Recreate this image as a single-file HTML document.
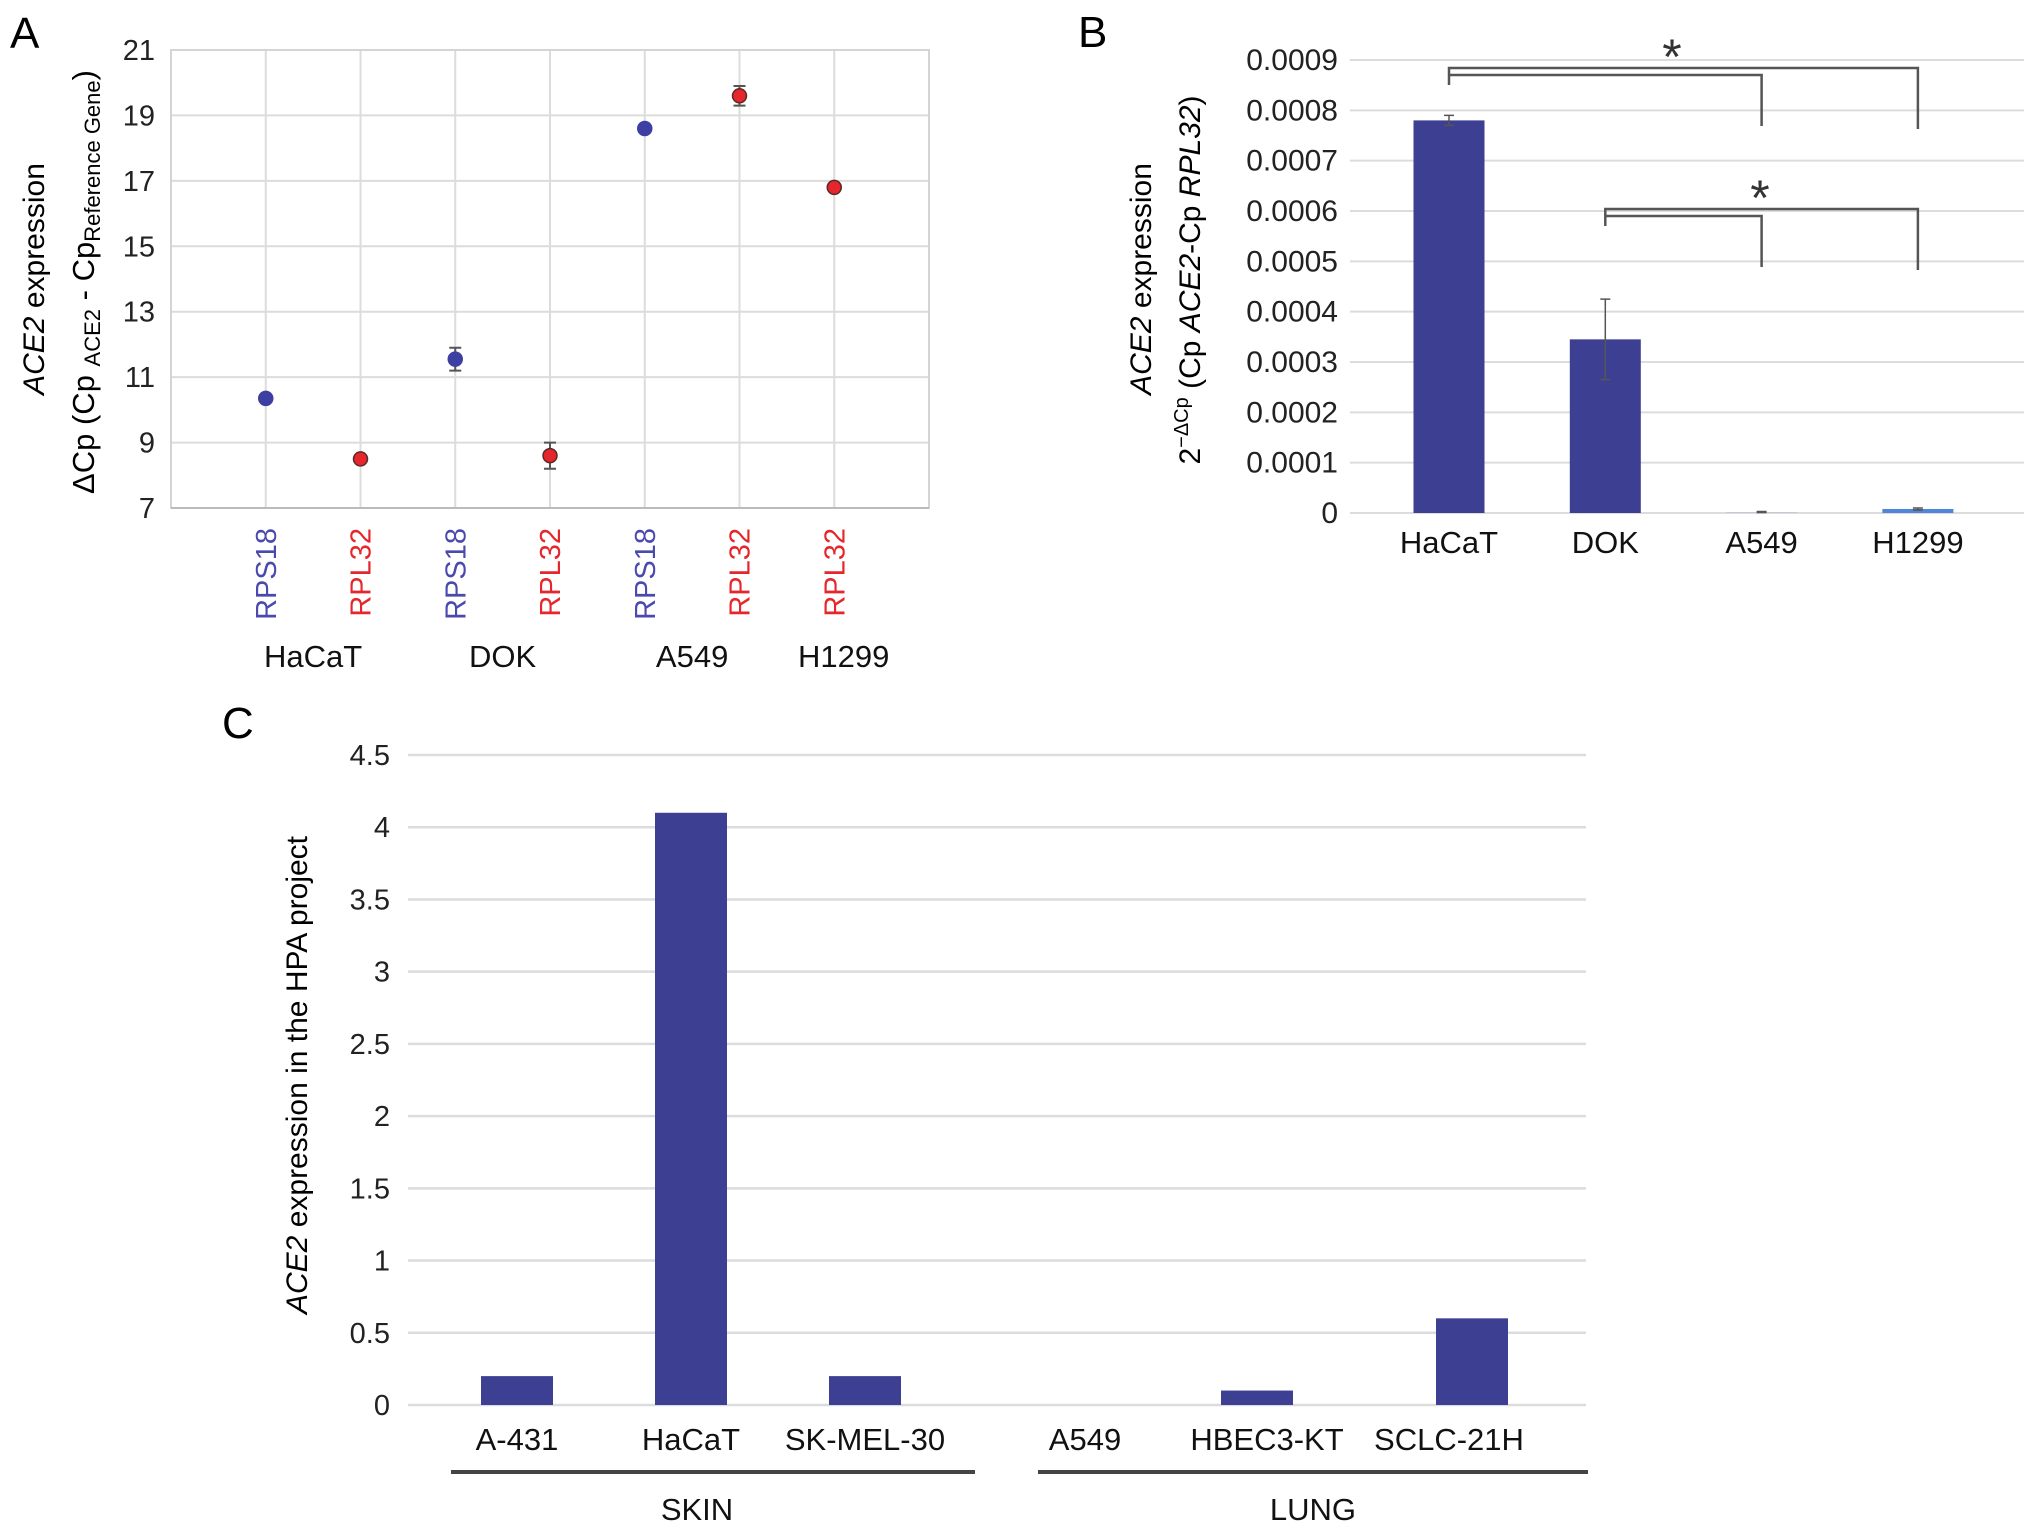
<!DOCTYPE html>
<html><head><meta charset="utf-8"><style>
html,body{margin:0;padding:0;background:#fff}
svg{display:block;font-family:"Liberation Sans",sans-serif}
</style></head><body>
<svg id="fig" width="2032" height="1534" viewBox="0 0 2032 1534" xmlns="http://www.w3.org/2000/svg">
<g id="pa"></g>
<g id="pb"></g>
<g id="pc"></g>
</svg>
<script>
// Panel A data
const aRefGenes = ["RPS18","RPL32","RPS18","RPL32","RPS18","RPL32","RPL32"];
const aValues = [10.35, 8.5, 11.55, 8.6, 18.6, 19.6, 16.8];
const aErrors = [0.1, 0.1, 0.35, 0.4, 0.1, 0.3, 0.1];
const aTicks = [7, 9, 11, 13, 15, 17, 19, 21];
const aCellLines = ["HaCaT","DOK","A549","H1299"];
const aCellPos = [1.5, 3.5, 5.5, 7.1];
// Panel B data
const bCats = ["HaCaT","DOK","A549","H1299"];
const bValues = [0.00078, 0.000345, 0.000002, 0.000008];
const bErrors = [0.00001, 0.00008, 0.000001, 0.000002];
const bTicks = [0,0.0001,0.0002,0.0003,0.0004,0.0005,0.0006,0.0007,0.0008,0.0009];
const bTickLabels = ["0","0.0001","0.0002","0.0003","0.0004","0.0005","0.0006","0.0007","0.0008","0.0009"];
// Panel C data
const cCats = ["A-431","HaCaT","SK-MEL-30","A549","HBEC3-KT","SCLC-21H"];
const cValues = [0.2, 4.1, 0.2, 0, 0.1, 0.6];
const cTicks = [0,0.5,1,1.5,2,2.5,3,3.5,4,4.5];
const cTickLabels = ["0","0.5","1","1.5","2","2.5","3","3.5","4","4.5"];
const cGroups = ["SKIN","LUNG"];

const NS="http://www.w3.org/2000/svg";
function mk(parent,tag,attrs,text){const e=document.createElementNS(NS,tag);for(const k in attrs)e.setAttribute(k,attrs[k]);if(text!==undefined)e.textContent=text;parent.appendChild(e);return e;}

// ---------- Panel A ----------
(function(){
const g=document.getElementById('pa');
const L=171,R=929,T=50,B=508;
const step=(R-L)/8;
const x=i=>L+step*(i+1);
const y=v=>B-(v-7)/(21-7)*(B-T);
let t=mk(g,'text',{x:10,y:48,'font-size':44},'A');


aTicks.forEach(v=>{
  const l=mk(g,'line',{x1:L,x2:R,y1:y(v),y2:y(v),stroke:'#dcdcdc','stroke-width':2});
  
  
  const tx=mk(g,'text',{x:L-16,y:y(v)+10,'font-size':29,'text-anchor':'end',fill:'#222'},String(v));
  
  
});
aValues.forEach((v,i)=>{
  const l=mk(g,'line',{x1:x(i),x2:x(i),y1:T,y2:B,stroke:'#dcdcdc','stroke-width':2});
  
  
});
const fr=mk(g,'rect',{x:L,y:T,width:R-L,height:B-T,fill:'none',stroke:'#d4d4d4','stroke-width':2});


mk(g,'line',{x1:L,x2:R,y1:B,y2:B,stroke:'#bbb','stroke-width':2});
aValues.forEach((v,i)=>{
  const red=aRefGenes[i]==='RPL32';
  const col=red?'#e5262b':'#3d3fa3';
  const e=aErrors[i];
  const eb=mk(g,'path',{d:`M${x(i)-6},${y(v+e)}H${x(i)+6}M${x(i)},${y(v+e)}V${y(v-e)}M${x(i)-6},${y(v-e)}H${x(i)+6}`,stroke:'#555','stroke-width':2,fill:'none'});
  
  
  const c=mk(g,'circle',{cx:x(i),cy:y(v),r:7,fill:col,stroke:red?'#5a2a2a':'#3d3fa3','stroke-width':1.5});
  
  
  const tl=mk(g,'text',{x:0,y:0,'font-size':29,'text-anchor':'end',fill:red?'#e5262b':'#4a4aae',transform:`translate(${x(i)+10},528) rotate(-90)`},aRefGenes[i]);
  
  
});
aCellLines.forEach((n,i)=>{
  const tx=mk(g,'text',{x:L+step*aCellPos[i],y:667,'font-size':31,'text-anchor':'middle',fill:'#111'},n);
  
  
});
const t1=mk(g,'text',{x:0,y:0,'font-size':30,'text-anchor':'middle',transform:'translate(44,279) rotate(-90)'});


mk(t1,'tspan',{'font-style':'italic'},'ACE2');mk(t1,'tspan',{},' expression');
const t2=mk(g,'text',{x:0,y:0,'font-size':31,'text-anchor':'middle',transform:'translate(94,282) rotate(-90)'});


mk(t2,'tspan',{},'ΔCp (Cp ');mk(t2,'tspan',{'font-size':22,dy:6},'ACE2');mk(t2,'tspan',{dy:-6},' - Cp');mk(t2,'tspan',{'font-size':22,dy:6},'Reference Gene');mk(t2,'tspan',{dy:-6},')');
})();

// ---------- Panel B ----------
(function(){
const g=document.getElementById('pb');
const L=1350,R=2024,T=60,B=513;
const y=v=>B-v/0.0009*(B-T);
const x0=1449,step=156.3;
const x=i=>x0+i*step;
let t=mk(g,'text',{x:1078,y:47,'font-size':44},'B');


bTicks.forEach((v,i)=>{
  const l=mk(g,'line',{x1:L,x2:R,y1:y(v),y2:y(v),stroke:'#dcdcdc','stroke-width':2});
  
  
  const tx=mk(g,'text',{x:1338,y:y(v)+10,'font-size':30,'text-anchor':'end',fill:'#222'},bTickLabels[i]);
  
  
});
bValues.forEach((v,i)=>{
  const w=71;
  const col=i===3?'#4f86d8':(i===2?'#c8c8d8':'#3d3f93');
  const r=mk(g,'rect',{x:x(i)-w/2,y:y(v),width:w,height:Math.max(B-y(v),1),fill:col});
  
  
  const e=bErrors[i];
  const eb=mk(g,'path',{d:`M${x(i)-5},${y(v+e)}H${x(i)+5}M${x(i)},${y(v+e)}V${y(v-e)}M${x(i)-5},${y(v-e)}H${x(i)+5}`,stroke:'#555','stroke-width':1.5,fill:'none'});
  
  
  const tx=mk(g,'text',{x:x(i),y:553,'font-size':31,'text-anchor':'middle',fill:'#111'},bCats[i]);
  
  
});
function bracket(from,yTop,yDrop,ends,star){
  const p=mk(g,'path',{d:`M${x(from)},${yTop+17}V${yTop}H${x(ends[1])}V${yDrop+3}M${x(from)},${yTop+7}H${x(ends[0])}V${yDrop}`,stroke:'#555','stroke-width':2.5,fill:'none'});
  
  
  const s=mk(g,'text',{x:star,y:yTop+6,'font-size':50,'text-anchor':'middle',fill:'#333'},'*');
  
  
}
bracket(0,68,126,[2,3],1672);
bracket(1,209,267,[2,3],1760);
const t1=mk(g,'text',{x:0,y:0,'font-size':30,'text-anchor':'middle',transform:'translate(1151,279) rotate(-90)'});


mk(t1,'tspan',{'font-style':'italic'},'ACE2');mk(t1,'tspan',{},' expression');
const t2=mk(g,'text',{x:0,y:0,'font-size':30,'text-anchor':'middle',transform:'translate(1200,280) rotate(-90)'});


mk(t2,'tspan',{},'2');mk(t2,'tspan',{'font-size':20,dy:-12},'−ΔCp');mk(t2,'tspan',{dy:12},' (Cp ');mk(t2,'tspan',{'font-style':'italic'},'ACE2');mk(t2,'tspan',{},'-Cp ');mk(t2,'tspan',{'font-style':'italic'},'RPL32');mk(t2,'tspan',{},')');
})();

// ---------- Panel C ----------
(function(){
const g=document.getElementById('pc');
const L=408,R=1586,T=755,B=1405;
const y=v=>B-v/4.5*(B-T);
const x=i=>(i<3?517+i*174:1085+(i-3)*182);
let t=mk(g,'text',{x:222,y:738,'font-size':44},'C');


cTicks.forEach((v,i)=>{
  const l=mk(g,'line',{x1:L,x2:R,y1:y(v),y2:y(v),stroke:'#dcdcdc','stroke-width':2.5});
  
  
  const tx=mk(g,'text',{x:390,y:y(v)+10,'font-size':29,'text-anchor':'end',fill:'#222'},cTickLabels[i]);
  
  
});
cValues.forEach((v,i)=>{
  const w=72;
  if(v>0){
    const r=mk(g,'rect',{x:x(i)-w/2+(i===5?23:(i===4?-10:0)),y:y(v),width:w,height:B-y(v),fill:'#3d3f93'});
    
    
  }
  const tx=mk(g,'text',{x:x(i),y:1450,'font-size':31,'text-anchor':'middle',fill:'#111'},cCats[i]);
  
  
});
const g1=mk(g,'line',{x1:451,x2:975,y1:1472,y2:1472,stroke:'#444','stroke-width':4});


const g2=mk(g,'line',{x1:1038,x2:1588,y1:1472,y2:1472,stroke:'#444','stroke-width':4});


const s1=mk(g,'text',{x:697,y:1520,'font-size':31,'text-anchor':'middle',fill:'#111'},cGroups[0]);


const s2=mk(g,'text',{x:1313,y:1520,'font-size':31,'text-anchor':'middle',fill:'#111'},cGroups[1]);


const t1=mk(g,'text',{x:0,y:0,'font-size':30,'text-anchor':'middle',transform:'translate(307,1075) rotate(-90)'});


mk(t1,'tspan',{'font-style':'italic'},'ACE2');mk(t1,'tspan',{},' expression in the HPA project');
})();
</script>
</body></html>
